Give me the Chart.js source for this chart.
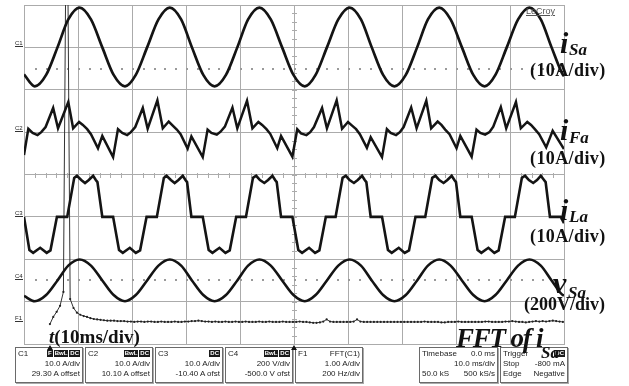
<!DOCTYPE html>
<html>
<head>
<meta charset="utf-8">
<script src="https://cdn.jsdelivr.net/npm/chart.js@4.4.1/dist/chart.umd.min.js"></script>
<style>
  html, body { margin: 0; padding: 0; background: #fff; }
  #wrap { position: relative; width: 629px; height: 386px; overflow: hidden; background: #fff; }
  #scope { position: absolute; left: 0; top: 0; }
  .lab { position: absolute; font-family: 'Liberation Serif', 'DejaVu Serif', serif; font-weight: bold;
         line-height: 1; white-space: nowrap; color: #111; }
  .it { font-style: italic; }
  .gnd { position: absolute; left: 15px; width: 8px; font: 6px 'Liberation Sans', sans-serif; color: #222;
         border-bottom: 1.5px solid #333; line-height: 6px; }
  .box { position: absolute; top: 347px; height: 34px; border: 1px solid #6a6a6a; box-shadow: 1px 1px 0 #aaa;
         font: 8px 'Liberation Sans', sans-serif; color: #222; background: #fff; }
  .hd { display: flex; height: 11px; line-height: 11px; padding: 0 2px; }
  .hd span:first-child { flex: 1; }
  .bd { background: #1a1a1a; color: #fff; font-size: 6px; line-height: 7px; height: 7px; margin: 2px 0 0 1px;
        padding: 0 1px; font-weight: bold; }
  .r { height: 10px; line-height: 10px; padding: 0 2px; display: flex; justify-content: space-between; }
  .tri { position: absolute; width: 0; height: 0; border-left: 3px solid transparent;
         border-right: 3px solid transparent; border-bottom: 5px solid #111; }
  #logo { position: absolute; left: 526px; top: 6px; font: 9px 'Liberation Sans', sans-serif; color: #555;
          text-decoration: underline; }
</style>
</head>
<body>
<div id="wrap">
  <canvas id="scope" width="629" height="386"></canvas>
  <div id="logo">LeCroy</div>

  <div class="box" style="left:15px;width:66px">
    <div class="hd"><span>C1</span><span class="bd">F</span><span class="bd">BwL</span><span class="bd">DC</span></div>
    <div class="r"><span></span><span>10.0 A/div</span></div>
    <div class="r"><span></span><span>29.30 A offset</span></div>
  </div>
  <div class="box" style="left:85px;width:66px">
    <div class="hd"><span>C2</span><span class="bd">BwL</span><span class="bd">DC</span></div>
    <div class="r"><span></span><span>10.0 A/div</span></div>
    <div class="r"><span></span><span>10.10 A offset</span></div>
  </div>
  <div class="box" style="left:155px;width:66px">
    <div class="hd"><span>C3</span><span class="bd">DC</span></div>
    <div class="r"><span></span><span>10.0 A/div</span></div>
    <div class="r"><span></span><span>-10.40 A ofst</span></div>
  </div>
  <div class="box" style="left:225px;width:66px">
    <div class="hd"><span>C4</span><span class="bd">BwL</span><span class="bd">DC</span></div>
    <div class="r"><span></span><span>200 V/div</span></div>
    <div class="r"><span></span><span>-500.0 V ofst</span></div>
  </div>
  <div class="box" style="left:295px;width:66px">
    <div class="hd"><span>F1</span><span>FFT(C1)</span></div>
    <div class="r"><span></span><span>1.00 A/div</span></div>
    <div class="r"><span></span><span>200 Hz/div</span></div>
  </div>
  <div class="box" style="left:419px;width:77px">
    <div class="hd"><span>Timebase</span><span>0.0 ms</span></div>
    <div class="r"><span></span><span>10.0 ms/div</span></div>
    <div class="r"><span>50.0 kS</span><span>500 kS/s</span></div>
  </div>
  <div class="box" style="left:500px;width:66px">
    <div class="hd"><span>Trigger</span><span class="bd">DC</span></div>
    <div class="r"><span>Stop</span><span>-800 mA</span></div>
    <div class="r"><span>Edge</span><span>Negative</span></div>
  </div>

  <div class="lab it" style="left:560px;top:28px;font-size:30px">i</div>
  <div class="lab it" style="left:569px;top:41px;font-size:17px">Sa</div>
  <div class="lab" style="left:530px;top:61px;font-size:18px;letter-spacing:0.4px">(10A/div)</div>

  <div class="lab it" style="left:560px;top:115px;font-size:30px">i</div>
  <div class="lab it" style="left:569px;top:129px;font-size:17px">Fa</div>
  <div class="lab" style="left:530px;top:149px;font-size:18px;letter-spacing:0.4px">(10A/div)</div>

  <div class="lab it" style="left:560px;top:195px;font-size:30px">i</div>
  <div class="lab it" style="left:569px;top:208px;font-size:17px">La</div>
  <div class="lab" style="left:530px;top:227px;font-size:18px;letter-spacing:0.4px">(10A/div)</div>

  <div class="lab it" style="left:553px;top:268px;font-size:30px">v</div>
  <div class="lab it" style="left:568px;top:284px;font-size:17px">Sa</div>
  <div class="lab" style="left:524px;top:295px;font-size:18px">(200V/div)</div>

  <div class="lab it" style="left:456px;top:325px;font-size:27px;letter-spacing:-1.2px">FFT of i</div>
  <div class="lab it" style="left:541px;top:344px;font-size:17px">Sa</div>

  <div class="lab" style="left:49px;top:327px;font-size:19px"><span class="it">t</span>(10ms/div)</div>
</div>

<script>
// time axis in ms, 10 ms/div
const tSine = [0, 2.0, 4.1, 6.2, 8.2, 10.3, 12.4, 14.5, 16.6, 18.7, 20.7, 22.8, 24.9, 27.0, 29.1, 31.1, 33.2,
  35.3, 37.4, 39.5, 41.5, 43.6, 45.7, 47.8, 49.9, 52.0, 54.0, 56.1, 58.2, 60.3, 62.4, 64.4, 66.5,
  68.6, 70.7, 72.8, 74.8, 76.9, 79.0, 81.1, 83.2, 85.3, 87.3, 89.4, 91.5, 93.6, 95.7, 97.7, 99.8, 100];

// C1: source current iSa (A)
const iSa = [-6.4, -9.2, -6.5, 0, 6.6, 9.4, 6.6, 0, -6.5, -9.2, -6.5, 0, 6.6, 9.4, 6.6, 0, -6.5,
  -9.2, -6.5, 0, 6.6, 9.4, 6.6, 0, -6.5, -9.2, -6.5, 0, 6.6, 9.4, 6.6, 0, -6.5,
  -9.2, -6.5, 0, 6.6, 9.4, 6.6, 0, -6.5, -9.2, -6.5, 0, 6.6, 9.4, 6.6, 0, -6.5, -6.8];

// C4: source voltage vSa (V)
const vSa = [-73, -98, -69, 0, 70, 99, 70, 0, -69, -98, -69, 0, 70, 99, 70, 0, -69,
  -98, -69, 0, 70, 99, 70, 0, -69, -98, -69, 0, 70, 99, 70, 0, -69,
  -98, -69, 0, 70, 99, 70, 0, -69, -98, -69, 0, 70, 99, 70, 0, -69, -70];

// C2: filter current iFa (A)
const tFa = [0, 0.8, 1.6, 2.5, 3.2, 4.0,
  5.4, 6.3, 8.2, 9.1, 10.2, 10.9, 11.7, 12.4, 13.7, 14.5, 16.5, 17.4, 18.2, 19.1, 19.8, 20.6,
  22.0, 22.9, 24.7, 25.7, 26.8, 27.5, 28.3, 29.0, 30.3, 31.0, 33.1, 34.0, 34.7, 35.7, 36.4, 37.2,
  38.6, 39.5, 41.3, 42.3, 43.4, 44.1, 44.9, 45.6, 46.9, 47.6, 49.7, 50.6, 51.3, 52.3, 53.0, 53.7,
  55.2, 56.1, 57.9, 58.9, 60.0, 60.7, 61.5, 62.2, 63.5, 64.2, 66.3, 67.2, 67.9, 68.9, 69.6, 70.3,
  71.7, 72.7, 74.5, 75.4, 76.6, 77.3, 78.0, 78.8, 80.1, 80.8, 82.9, 83.8, 84.5, 85.4, 86.2, 86.9,
  88.3, 89.3, 91.1, 92.0, 93.2, 93.9, 94.6, 95.4, 96.7, 97.9, 100];
const iFa = [-5.4, 0.8, -0.2, -0.7, 0, 1.2,
  5.7, 0.9, 7.1, 0.9, 2.4, 1.7, 0.7, -0.5, -3.8, -0.9, -5.9, 0.7, -0.2, -0.7, 0, 1.2,
  5.7, 0.8, 7.5, 0.9, 2.5, 1.6, 0.6, -0.5, -3.9, -1.0, -5.9, 0.6, -0.2, -0.6, 0.1, 1.3,
  5.8, 0.9, 7.4, 0.9, 2.4, 1.7, 0.7, -0.4, -3.8, -0.9, -5.8, 0.7, -0.3, -0.7, 0, 1.2,
  5.7, 0.9, 7.5, 0.8, 2.4, 1.6, 0.7, -0.5, -3.7, -1.2, -5.9, 0.7, -0.2, -0.7, 0, 1.2,
  5.8, 0.9, 7.4, 0.9, 2.5, 1.7, 0.6, -0.5, -3.8, -0.9, -5.8, 0.6, -0.2, -0.6, 0, 1.3,
  5.9, 0.9, 7.1, 0.9, 2.4, 1.7, 0.7, -0.5, -3.6, 0.3, -4.0];

// C3: load current iLa (A)
const tLa = [0, 1.0, 1.7, 3.0, 4.2, 4.9,
  6.1, 8.0, 9.3, 9.8, 10.6, 11.3, 12.0, 12.8, 13.3, 13.6, 14.5, 16.5, 17.6, 18.3, 19.6, 20.7, 21.5,
  22.7, 24.6, 25.9, 26.4, 27.2, 27.9, 28.6, 29.4, 29.9, 30.2, 31.0, 33.1, 34.2, 34.9, 36.2, 37.3, 38.1,
  39.3, 41.1, 42.4, 43.0, 43.7, 44.5, 45.2, 46.0, 46.5, 46.8, 47.6, 49.7, 50.8, 51.5, 52.8, 53.9, 54.7,
  55.9, 57.7, 59.0, 59.6, 60.3, 61.1, 61.8, 62.6, 63.1, 63.4, 64.2, 66.3, 67.4, 68.1, 69.4, 70.5, 71.3,
  72.5, 74.3, 75.6, 76.2, 76.9, 77.7, 78.4, 79.2, 79.7, 80.0, 80.8, 82.9, 84.0, 84.7, 86.0, 87.1, 87.9,
  89.1, 90.9, 92.2, 92.8, 93.5, 94.3, 95.0, 95.7, 96.3, 96.6, 97.4, 99.4, 100];
const iLa = [0, -7.8, -8.5, -7.3, -8.5, -7.9,
  0, 0, 9.2, 9.7, 8.7, 8.0, 8.7, 9.7, 8.7, 8.2, 0, 0, -7.8, -8.5, -7.3, -8.5, -7.9,
  0, 0, 9.2, 9.7, 8.7, 8.0, 8.7, 9.7, 8.7, 8.2, 0, 0, -7.8, -8.5, -7.3, -8.5, -7.9,
  0, 0, 9.2, 9.7, 8.7, 8.0, 8.7, 9.7, 8.7, 8.2, 0, 0, -7.8, -8.5, -7.3, -8.5, -7.9,
  0, 0, 9.2, 9.7, 8.7, 8.0, 8.7, 9.7, 8.7, 8.2, 0, 0, -7.8, -8.5, -7.3, -8.5, -7.9,
  0, 0, 9.2, 9.7, 8.7, 8.0, 8.7, 9.7, 8.7, 8.2, 0, 0, -7.8, -8.5, -7.3, -8.5, -7.9,
  0, 0, 9.2, 9.7, 8.7, 8.0, 8.7, 9.7, 8.7, 8.2, 0, 0, -1.5];

// F1: FFT of C1, 200 Hz/div, 1 A/div, bins of 12.5 Hz starting at 96 Hz
const fftStartHz = 96;
const fftStepHz = 12.5;
const fftAmp = [-0.05, 0.12, 0.24, 0.38, 0.71, 11.6, 0.54, 0.33, 0.22, 0.17, 0.14, 0.12, 0.09,
  0.07, 0.06, 0.05, 0.04, 0.03, 0.03, 0.03, 0.02, 0.02, 0.02, 0.01, 0.01, 0.00,
  0.01, 0.01, 0.00, 0.01, 0.01, 0.00, 0.00, 0.01, 0.00, 0.00,
  0.00, 0.01, 0.00, 0.00, 0.01, 0.01, 0.02, 0.02, 0.03, 0.02,
  0.01, 0.01, 0.00, 0.01, 0.00, 0.00, 0.01, 0.00, 0.00, 0.01,
  0.00, 0.00, 0.01, 0.00, 0.00, 0.00, 0.01, 0.00, 0.00, 0.01,
  0.00, 0.00, 0.00, 0.01, 0.00, 0.00, 0.00, 0.00, 0.01, 0.00,
  0.00, -0.01, -0.02, -0.02, -0.01, 0.01, 0.06, 0.01, 0.00, 0.00,
  0.00, 0.00, 0.00, 0.00, 0.01, 0.06, 0.01, 0.00, 0.00, 0.00,
  0.00, 0.00, 0.00, 0.00, 0.00, 0.00, 0.00, 0.00, 0.00, 0.00,
  0.00, 0.00, 0.00, 0.00, 0.00, 0.01, 0.00, 0.00, 0.00, 0.00,
  -0.01, -0.01, 0.00, 0.00, 0.00, 0.01, 0.00, 0.00, 0.00, 0.00,
  0.00, 0.00, 0.00, 0.01, 0.01, 0.00, 0.00, 0.00, 0.00, 0.01,
  0.01, 0.02, 0.01, 0.00, 0.00, -0.01, 0.00, 0.01, 0.02, 0.01,
  0.02, 0.01, 0.02, 0.03, 0.02, 0.01, 0.00];

const pts = (ts, vs) => ts.map((t, i) => ({ x: t, y: vs[i] }));
const fftPts = fftAmp.map((a, k) => ({ x: fftStartHz + k * fftStepHz, y: a }));

const ink = '#141414';
const gridColor = '#ababab';

// center ticks and the two dotted reference lines
const scopeMarks = {
  id: 'scopeMarks',
  beforeDatasetsDraw(chart) {
    const { ctx } = chart;
    const x = chart.scales.x, yd = chart.scales.yDiv;
    ctx.save();
    ctx.strokeStyle = gridColor;
    ctx.lineWidth = 1;
    const cy = Math.round(yd.getPixelForValue(4)) + 0.5;
    const cx = Math.round(x.getPixelForValue(50)) + 0.5;
    ctx.beginPath();
    for (let k = 0; k <= 50; k++) {
      const px = Math.round(x.getPixelForValue(k * 2)) + 0.5;
      ctx.moveTo(px, cy - 2.5); ctx.lineTo(px, cy + 2.5);
    }
    for (let k = 0; k <= 40; k++) {
      const py = Math.round(yd.getPixelForValue(k * 0.2)) + 0.5;
      ctx.moveTo(cx - 2.5, py); ctx.lineTo(cx + 2.5, py);
    }
    ctx.stroke();
    ctx.fillStyle = '#9a9a9a';
    [1.5, 6.5].forEach(d => {
      const py = Math.round(yd.getPixelForValue(d));
      for (let k = 1; k < 50; k++) {
        ctx.fillRect(Math.round(x.getPixelForValue(k * 2)), py - 1, 2, 2);
      }
    });
    ctx.restore();
  }
};

const chart = new Chart(document.getElementById('scope'), {
  type: 'line',
  data: {
    datasets: [
      { label: 'iSa', data: pts(tSine, iSa), yAxisID: 'yC1', borderColor: ink, borderWidth: 2.7,
        pointRadius: 0, cubicInterpolationMode: 'monotone' },
      { label: 'iFa', data: pts(tFa, iFa), yAxisID: 'yC2', borderColor: ink, borderWidth: 2.5,
        pointRadius: 0, tension: 0 },
      { label: 'iLa', data: pts(tLa, iLa), yAxisID: 'yC3', borderColor: ink, borderWidth: 2.6,
        pointRadius: 0, tension: 0 },
      { label: 'vSa', data: pts(tSine, vSa), yAxisID: 'yC4', borderColor: ink, borderWidth: 2.6,
        pointRadius: 0, cubicInterpolationMode: 'monotone' },
      { label: 'FFT', data: fftPts, xAxisID: 'xF', yAxisID: 'yF1', borderColor: '#333', borderWidth: 1,
        pointRadius: 1.1, pointBackgroundColor: '#222', pointBorderWidth: 0, tension: 0 }
    ]
  },
  options: {
    responsive: false,
    animation: false,
    devicePixelRatio: 1,
    layout: { padding: { left: 24, right: 65, top: 5, bottom: 42 } },
    plugins: { legend: { display: false }, tooltip: { enabled: false } },
    scales: {
      x: { type: 'linear', min: 0, max: 100, ticks: { display: false, stepSize: 10 },
           grid: { color: gridColor, drawTicks: false }, border: { color: gridColor } },
      yDiv: { type: 'linear', position: 'left', min: 0, max: 8, ticks: { display: false, stepSize: 1 },
              grid: { color: gridColor, drawTicks: false }, border: { color: gridColor } },
      yC1: { display: false, min: -70, max: 10 },
      yC2: { display: false, min: -50, max: 30 },
      yC3: { display: false, min: -30, max: 50 },
      yC4: { display: false, min: -300, max: 1300 },
      yF1: { display: false, min: -0.52, max: 7.48 },
      xF: { type: 'linear', display: false, min: 0, max: 2000 }
    }
  },
  plugins: [scopeMarks]
});

// ground markers and trigger arrows placed from the chart's own scales
const wrap = document.getElementById('wrap');
[['C1', 'yC1'], ['C2', 'yC2'], ['C3', 'yC3'], ['C4', 'yC4'], ['F1', 'yF1']].forEach(([name, id]) => {
  const d = document.createElement('div');
  d.className = 'gnd';
  d.textContent = name;
  d.style.top = (chart.scales[id].getPixelForValue(0) - 7) + 'px';
  wrap.appendChild(d);
});
const bottom = chart.chartArea.bottom;
[chart.scales.xF.getPixelForValue(fftStartHz), chart.scales.x.getPixelForValue(50)].forEach(px => {
  const d = document.createElement('div');
  d.className = 'tri';
  d.style.left = (px - 3) + 'px';
  d.style.top = (bottom + 1) + 'px';
  wrap.appendChild(d);
});
</script>
</body>
</html>
